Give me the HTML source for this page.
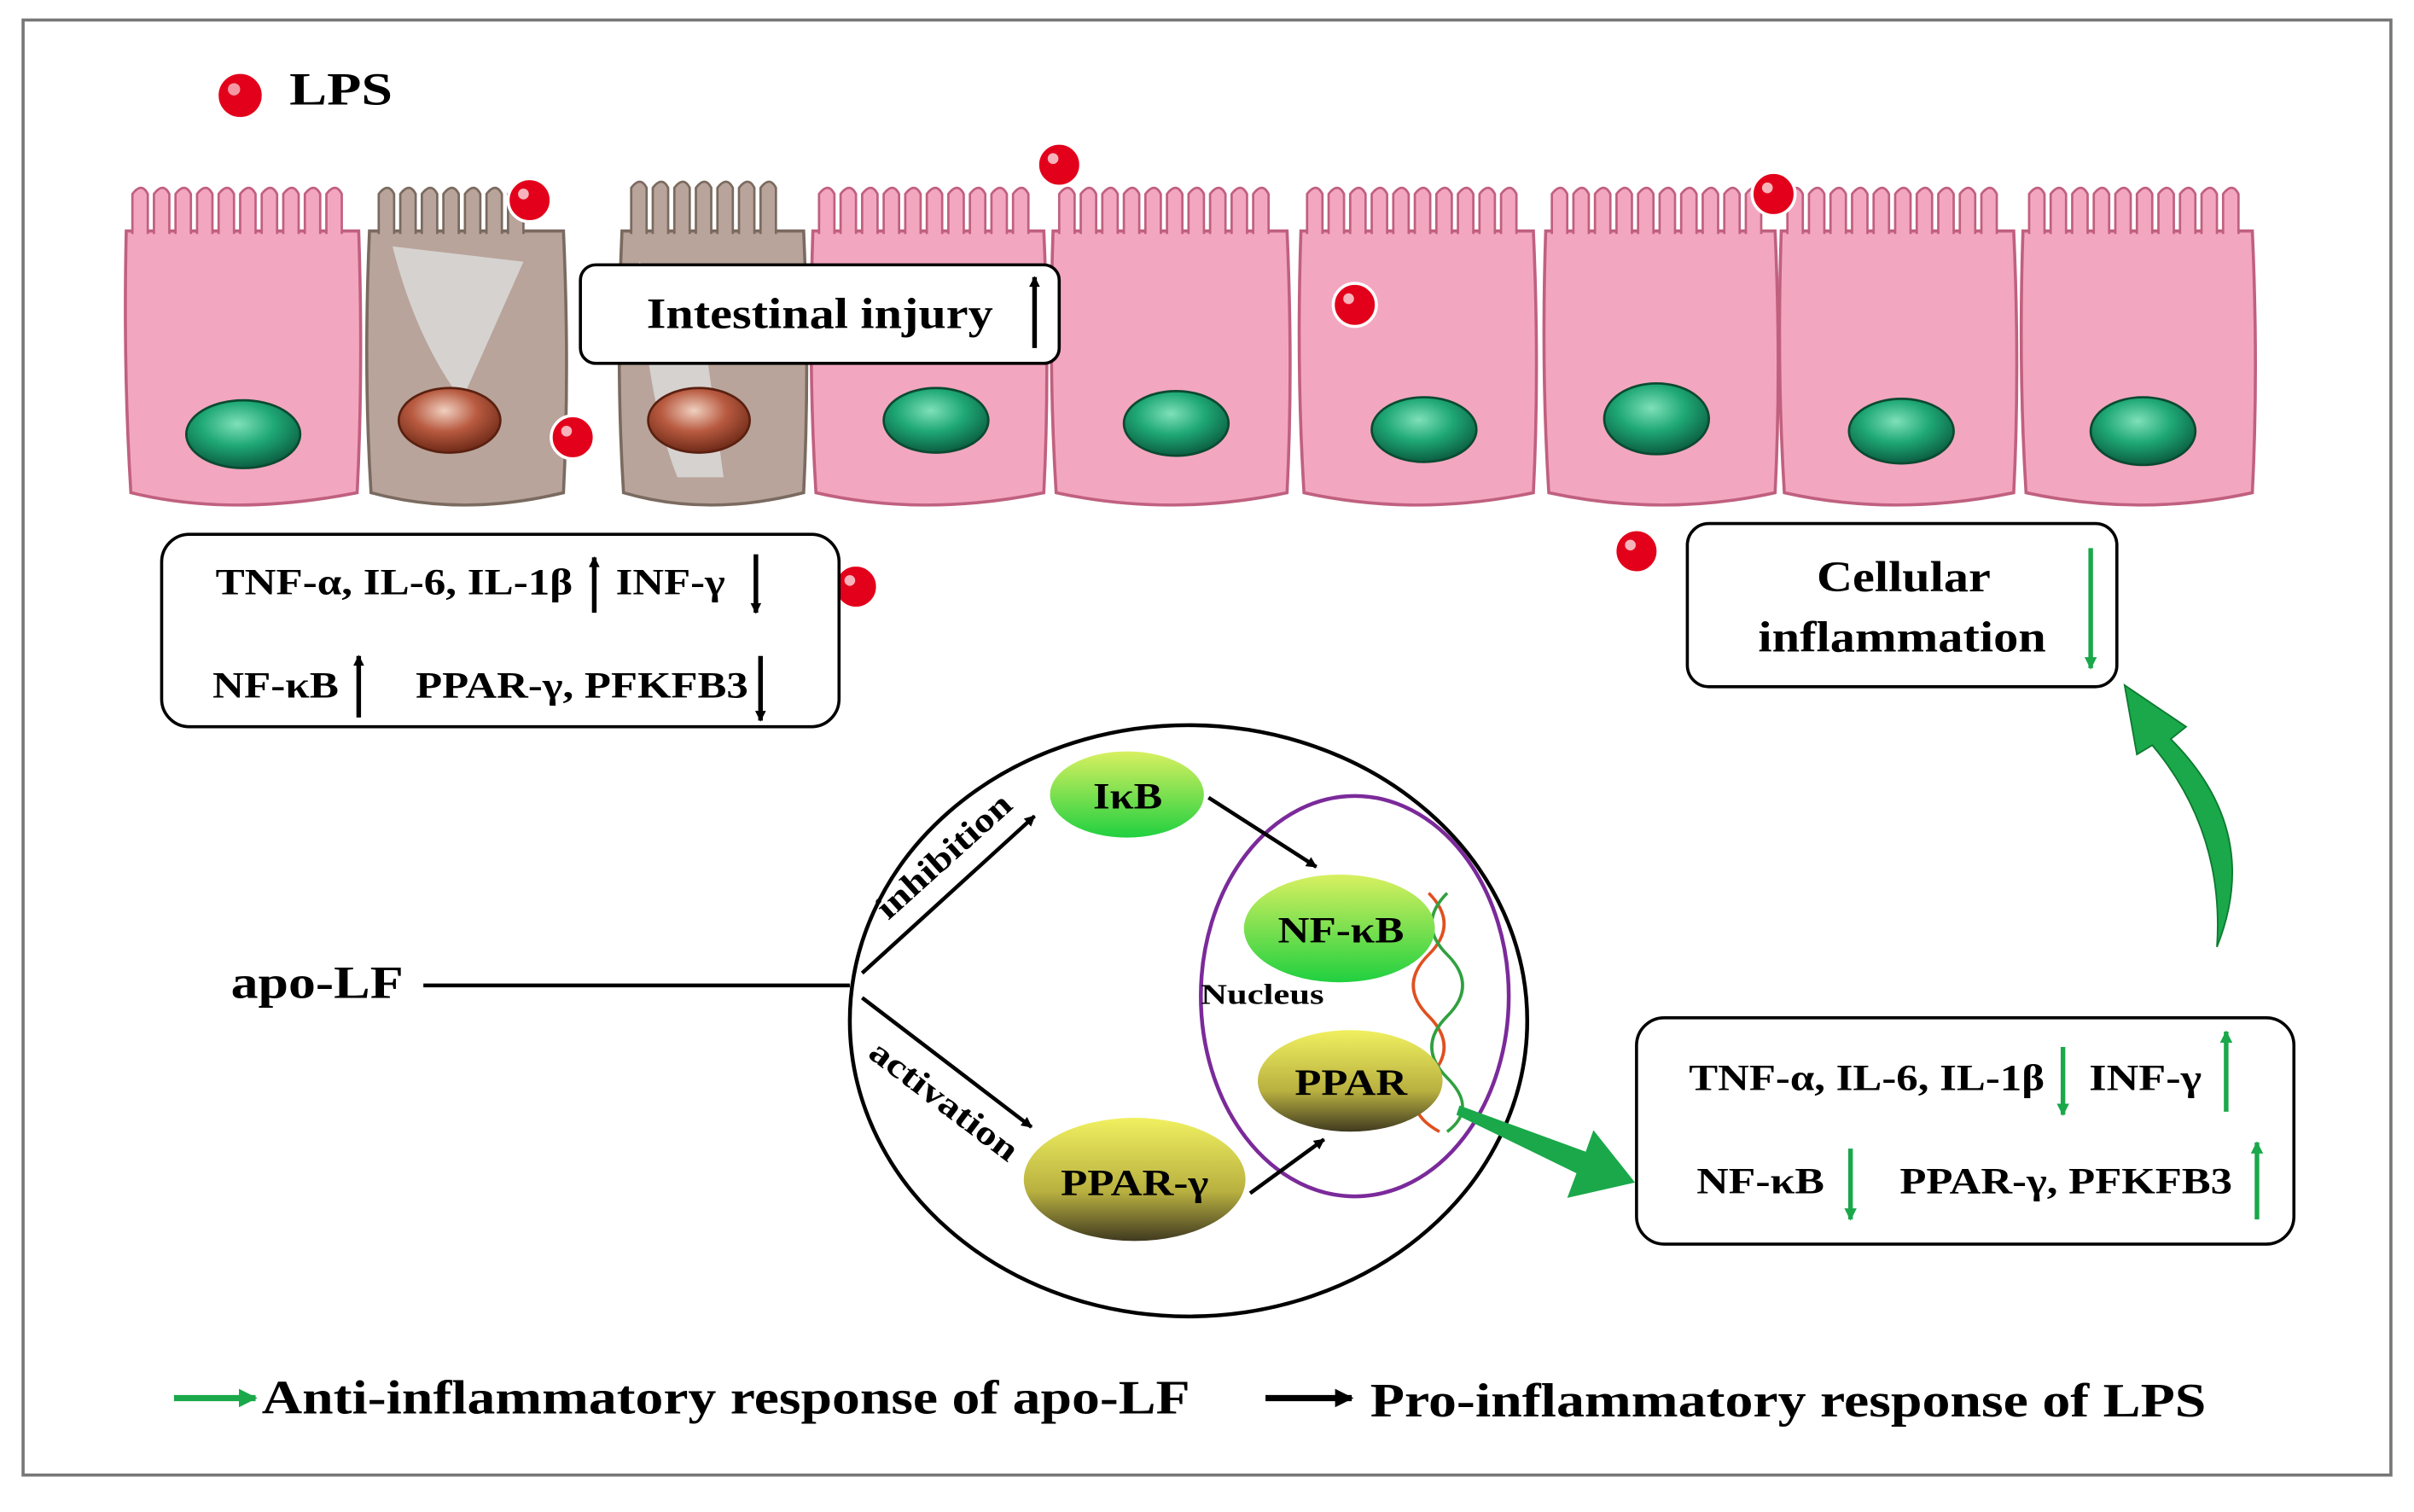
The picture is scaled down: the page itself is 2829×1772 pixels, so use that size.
<!DOCTYPE html>
<html><head><meta charset="utf-8"><style>
html,body{margin:0;padding:0;background:#fff;}
svg{display:block;}
text{font-family:"Liberation Serif",serif;font-weight:bold;fill:#000;}
</style></head><body>
<svg width="2829" height="1772" viewBox="0 0 1568 982" preserveAspectRatio="none" xmlns="http://www.w3.org/2000/svg">
<defs>
<radialGradient id="nuc" cx="45%" cy="35%" r="65%"><stop offset="0" stop-color="#7fe0b8"/><stop offset="0.5" stop-color="#1fa876"/><stop offset="1" stop-color="#0b5e42"/></radialGradient>
<radialGradient id="nucb" cx="45%" cy="35%" r="65%"><stop offset="0" stop-color="#f0d0c0"/><stop offset="0.5" stop-color="#b85a40"/><stop offset="1" stop-color="#6e2a18"/></radialGradient>
<linearGradient id="gr" x1="0" y1="0" x2="0" y2="1"><stop offset="0" stop-color="#d8f060"/><stop offset="1" stop-color="#20d040"/></linearGradient>
<linearGradient id="yd" x1="0" y1="0" x2="0" y2="1"><stop offset="0" stop-color="#f0f060"/><stop offset="0.6" stop-color="#b8b040"/><stop offset="1" stop-color="#403a20"/></linearGradient>
<marker id="ah" viewBox="0 0 10 10" refX="9" refY="5" markerUnits="userSpaceOnUse" markerWidth="12" markerHeight="10" orient="auto"><path d="M0,0 L10,5 L0,10 z" fill="#000"/></marker>
<marker id="ahs" viewBox="0 0 10 10" refX="9" refY="5" markerUnits="userSpaceOnUse" markerWidth="8" markerHeight="7" orient="auto"><path d="M0,0 L10,5 L0,10 z" fill="#000"/></marker>
<marker id="ahg" viewBox="0 0 10 10" refX="9" refY="5" markerUnits="userSpaceOnUse" markerWidth="9" markerHeight="8" orient="auto"><path d="M0,0 L10,5 L0,10 z" fill="#1aa84a"/></marker>
<marker id="ahgl" viewBox="0 0 10 10" refX="9" refY="5" markerUnits="userSpaceOnUse" markerWidth="14" markerHeight="12" orient="auto"><path d="M0,0 L10,5 L0,10 z" fill="#1aa84a"/></marker>
<marker id="ahl" viewBox="0 0 10 10" refX="9" refY="5" markerUnits="userSpaceOnUse" markerWidth="14" markerHeight="12" orient="auto"><path d="M0,0 L10,5 L0,10 z" fill="#000"/></marker>
</defs>
<rect x="15" y="13" width="1538" height="945" fill="#fff" stroke="#777" stroke-width="2"/>
<circle cx="156" cy="62" r="15" fill="#e3001b" stroke="#fff" stroke-width="2"/><circle cx="152" cy="58" r="4" fill="#fff" opacity=".6"/>
<text x="188" y="68" font-size="30" textLength="67" lengthAdjust="spacingAndGlyphs">LPS</text>
<g stroke-width="2">
<g fill="#f3a6c0" stroke="#c0607f">
<path d="M82,150 Q80,240 85,320 Q150,336 232,320 Q236,240 233,150 Z"/>
<path d="M528,150 Q525,240 530,320 Q600,336 678,320 Q682,240 678,150 Z"/>
<path d="M684,150 Q681,240 686,320 Q760,336 836,320 Q840,240 836,150 Z"/>
<path d="M845,150 Q842,240 847,320 Q920,336 996,320 Q1000,240 996,150 Z"/>
<path d="M1004,150 Q1001,240 1006,320 Q1080,336 1153,320 Q1157,240 1153,150 Z"/>
<path d="M1157,150 Q1154,240 1159,320 Q1230,336 1308,320 Q1312,240 1308,150 Z"/>
<path d="M1314,150 Q1311,240 1316,320 Q1390,336 1463,320 Q1467,240 1463,150 Z"/>
</g>
<g fill="#b8a49a" stroke="#7a6a60">
<path d="M240,150 Q236,240 241,320 Q300,336 366,320 Q370,240 366,150 Z"/>
<path d="M404,150 Q400,240 405,320 Q460,336 522,320 Q526,240 522,150 Z"/>
</g>
<g fill="#ddd" opacity=".8"><path d="M255,160 Q270,220 300,260 L340,170 Z"/><path d="M415,170 Q420,260 440,310 L470,310 L455,200 Z"/></g>
</g>
<g stroke="#c0607f" stroke-width="1.5" fill="#f3a6c0">
<path d="M86,152 v-26 q6,-8 10,0 v26 M100,152 v-26 q6,-8 10,0 v26 M114,152 v-26 q6,-8 10,0 v26 M128,152 v-26 q6,-8 10,0 v26 M142,152 v-26 q6,-8 10,0 v26 M156,152 v-26 q6,-8 10,0 v26 M170,152 v-26 q6,-8 10,0 v26 M184,152 v-26 q6,-8 10,0 v26 M198,152 v-26 q6,-8 10,0 v26 M212,152 v-26 q6,-8 10,0 v26"/>
<path d="M532,152 v-26 q6,-8 10,0 v26 M546,152 v-26 q6,-8 10,0 v26 M560,152 v-26 q6,-8 10,0 v26 M574,152 v-26 q6,-8 10,0 v26 M588,152 v-26 q6,-8 10,0 v26 M602,152 v-26 q6,-8 10,0 v26 M616,152 v-26 q6,-8 10,0 v26 M630,152 v-26 q6,-8 10,0 v26 M644,152 v-26 q6,-8 10,0 v26 M658,152 v-26 q6,-8 10,0 v26"/>
<path d="M688,152 v-26 q6,-8 10,0 v26 M702,152 v-26 q6,-8 10,0 v26 M716,152 v-26 q6,-8 10,0 v26 M730,152 v-26 q6,-8 10,0 v26 M744,152 v-26 q6,-8 10,0 v26 M758,152 v-26 q6,-8 10,0 v26 M772,152 v-26 q6,-8 10,0 v26 M786,152 v-26 q6,-8 10,0 v26 M800,152 v-26 q6,-8 10,0 v26 M814,152 v-26 q6,-8 10,0 v26"/>
<path d="M849,152 v-26 q6,-8 10,0 v26 M863,152 v-26 q6,-8 10,0 v26 M877,152 v-26 q6,-8 10,0 v26 M891,152 v-26 q6,-8 10,0 v26 M905,152 v-26 q6,-8 10,0 v26 M919,152 v-26 q6,-8 10,0 v26 M933,152 v-26 q6,-8 10,0 v26 M947,152 v-26 q6,-8 10,0 v26 M961,152 v-26 q6,-8 10,0 v26 M975,152 v-26 q6,-8 10,0 v26"/>
<path d="M1008,152 v-26 q6,-8 10,0 v26 M1022,152 v-26 q6,-8 10,0 v26 M1036,152 v-26 q6,-8 10,0 v26 M1050,152 v-26 q6,-8 10,0 v26 M1064,152 v-26 q6,-8 10,0 v26 M1078,152 v-26 q6,-8 10,0 v26 M1092,152 v-26 q6,-8 10,0 v26 M1106,152 v-26 q6,-8 10,0 v26 M1120,152 v-26 q6,-8 10,0 v26 M1134,152 v-26 q6,-8 10,0 v26"/>
<path d="M1161,152 v-26 q6,-8 10,0 v26 M1175,152 v-26 q6,-8 10,0 v26 M1189,152 v-26 q6,-8 10,0 v26 M1203,152 v-26 q6,-8 10,0 v26 M1217,152 v-26 q6,-8 10,0 v26 M1231,152 v-26 q6,-8 10,0 v26 M1245,152 v-26 q6,-8 10,0 v26 M1259,152 v-26 q6,-8 10,0 v26 M1273,152 v-26 q6,-8 10,0 v26 M1287,152 v-26 q6,-8 10,0 v26"/>
<path d="M1318,152 v-26 q6,-8 10,0 v26 M1332,152 v-26 q6,-8 10,0 v26 M1346,152 v-26 q6,-8 10,0 v26 M1360,152 v-26 q6,-8 10,0 v26 M1374,152 v-26 q6,-8 10,0 v26 M1388,152 v-26 q6,-8 10,0 v26 M1402,152 v-26 q6,-8 10,0 v26 M1416,152 v-26 q6,-8 10,0 v26 M1430,152 v-26 q6,-8 10,0 v26 M1444,152 v-26 q6,-8 10,0 v26"/>
</g>
<g stroke="#7a6a60" stroke-width="1.5" fill="#b8a49a">
<path d="M246,152 v-26 q6,-8 10,0 v26 M260,152 v-26 q6,-8 10,0 v26 M274,152 v-26 q6,-8 10,0 v26 M288,152 v-26 q6,-8 10,0 v26 M302,152 v-26 q6,-8 10,0 v26 M316,152 v-26 q6,-8 10,0 v26 M330,152 v-26 q6,-8 10,0 v26"/>
<path d="M410,152 v-30 q6,-8 10,0 v30 M424,152 v-30 q6,-8 10,0 v30 M438,152 v-30 q6,-8 10,0 v30 M452,152 v-30 q6,-8 10,0 v30 M466,152 v-30 q6,-8 10,0 v30 M480,152 v-30 q6,-8 10,0 v30 M494,152 v-30 q6,-8 10,0 v30"/>
</g>
<g stroke="#0a4a30" stroke-width="1.5">
<ellipse cx="158" cy="282" rx="37" ry="22" fill="url(#nuc)"/>
<ellipse cx="608" cy="273" rx="34" ry="21" fill="url(#nuc)"/>
<ellipse cx="764" cy="275" rx="34" ry="21" fill="url(#nuc)"/>
<ellipse cx="925" cy="279" rx="34" ry="21" fill="url(#nuc)"/>
<ellipse cx="1076" cy="272" rx="34" ry="23" fill="url(#nuc)"/>
<ellipse cx="1235" cy="280" rx="34" ry="21" fill="url(#nuc)"/>
<ellipse cx="1392" cy="280" rx="34" ry="22" fill="url(#nuc)"/>
<ellipse cx="292" cy="273" rx="33" ry="21" fill="url(#nucb)" stroke="#5a2010"/>
<ellipse cx="454" cy="273" rx="33" ry="21" fill="url(#nucb)" stroke="#5a2010"/>
</g>
<g fill="#e3001b" stroke="#fff" stroke-width="2">
<circle cx="344" cy="130" r="14"/><circle cx="372" cy="284" r="14"/><circle cx="556" cy="381" r="14"/><circle cx="688" cy="107" r="14"/><circle cx="880" cy="198" r="14"/><circle cx="1152" cy="126" r="14"/><circle cx="1063" cy="358" r="14"/>
</g>
<g fill="#fff" opacity=".7"><circle cx="340" cy="126" r="3.5"/><circle cx="368" cy="280" r="3.5"/><circle cx="552" cy="377" r="3.5"/><circle cx="684" cy="103" r="3.5"/><circle cx="876" cy="194" r="3.5"/><circle cx="1148" cy="122" r="3.5"/><circle cx="1059" cy="354" r="3.5"/></g>
<rect x="377" y="172" width="311" height="64" rx="10" fill="#fff" stroke="#000" stroke-width="2"/>
<text x="420" y="213" font-size="28" textLength="225" lengthAdjust="spacingAndGlyphs">Intestinal injury</text>
<line x1="672" y1="226" x2="672" y2="180" stroke="#000" stroke-width="3" marker-end="url(#ahs)"/>
<rect x="105" y="347" width="440" height="125" rx="18" fill="#fff" stroke="#000" stroke-width="2"/>
<g font-size="24">
<text x="140" y="386" textLength="232" lengthAdjust="spacingAndGlyphs">TNF-α, IL-6, IL-1β</text><text x="400" y="386" textLength="71" lengthAdjust="spacingAndGlyphs">INF-γ</text>
<text x="138" y="453" textLength="82" lengthAdjust="spacingAndGlyphs">NF-κB</text><text x="270" y="453" textLength="216" lengthAdjust="spacingAndGlyphs">PPAR-γ, PFKFB3</text>
</g>
<g stroke="#000" stroke-width="3">
<line x1="386" y1="398" x2="386" y2="362" marker-end="url(#ahs)"/>
<line x1="491" y1="360" x2="491" y2="398" marker-end="url(#ahs)"/>
<line x1="233" y1="466" x2="233" y2="426" marker-end="url(#ahs)"/>
<line x1="494" y1="426" x2="494" y2="468" marker-end="url(#ahs)"/>
</g>
<rect x="1096" y="340" width="279" height="106" rx="14" fill="#fff" stroke="#000" stroke-width="2"/>
<text x="1180" y="384" font-size="28" textLength="113" lengthAdjust="spacingAndGlyphs">Cellular</text>
<text x="1142" y="423" font-size="28" textLength="187" lengthAdjust="spacingAndGlyphs">inflammation</text>
<line x1="1358" y1="356" x2="1358" y2="434" stroke="#1aa84a" stroke-width="3" marker-end="url(#ahg)"/>
<ellipse cx="772" cy="663" rx="220" ry="192" fill="none" stroke="#000" stroke-width="2.5"/>
<ellipse cx="880" cy="647" rx="100" ry="130" fill="none" stroke="#7b2a9a" stroke-width="2.5"/>
<g stroke-width="2" fill="none">
<path d="M928,580 Q948,600 928,620 Q908,640 928,660 Q948,680 928,700 Q908,720 935,735" stroke="#e05020"/>
<path d="M940,580 Q920,600 940,620 Q960,640 940,660 Q920,680 940,700 Q960,720 940,735" stroke="#30a040"/>
</g>
<ellipse cx="732" cy="516" rx="50" ry="28" fill="url(#gr)"/>
<text x="710" y="525" font-size="24" textLength="45" lengthAdjust="spacingAndGlyphs">IκB</text>
<ellipse cx="870" cy="603" rx="62" ry="35" fill="url(#gr)"/>
<text x="830" y="612" font-size="24" textLength="82" lengthAdjust="spacingAndGlyphs">NF-κB</text>
<ellipse cx="877" cy="702" rx="60" ry="33" fill="url(#yd)"/>
<text x="841" y="711" font-size="24" textLength="73" lengthAdjust="spacingAndGlyphs">PPAR</text>
<ellipse cx="737" cy="766" rx="72" ry="40" fill="url(#yd)"/>
<text x="689" y="776" font-size="24" textLength="96" lengthAdjust="spacingAndGlyphs">PPAR-γ</text>
<text x="780" y="652" font-size="19" textLength="80" lengthAdjust="spacingAndGlyphs">Nucleus</text>
<text x="150" y="648" font-size="30" textLength="112" lengthAdjust="spacingAndGlyphs">apo-LF</text>
<g stroke="#000" stroke-width="2.5">
<line x1="275" y1="640" x2="552" y2="640"/>
<line x1="560" y1="632" x2="672" y2="530" marker-end="url(#ahs)"/>
<line x1="560" y1="648" x2="670" y2="732" marker-end="url(#ahs)"/>
<line x1="785" y1="518" x2="855" y2="563" marker-end="url(#ahs)"/>
<line x1="812" y1="775" x2="860" y2="740" marker-end="url(#ahs)"/>
</g>
<text font-size="22" transform="translate(577,598) rotate(-42)" textLength="110" lengthAdjust="spacingAndGlyphs">inhibition</text>
<text font-size="22" transform="translate(563,686) rotate(37)" textLength="115" lengthAdjust="spacingAndGlyphs">activation</text>
<path d="M948,718 L1030,748 L1035,734 L1062,768 L1018,778 L1024,762 L946,724 Z" fill="#1aa84a"/>
<rect x="1063" y="661" width="427" height="147" rx="18" fill="#fff" stroke="#000" stroke-width="2"/>
<g font-size="24">
<text x="1097" y="708" textLength="231" lengthAdjust="spacingAndGlyphs">TNF-α, IL-6, IL-1β</text><text x="1357" y="708" textLength="73" lengthAdjust="spacingAndGlyphs">INF-γ</text>
<text x="1102" y="775" textLength="83" lengthAdjust="spacingAndGlyphs">NF-κB</text><text x="1234" y="775" textLength="216" lengthAdjust="spacingAndGlyphs">PPAR-γ, PFKFB3</text>
</g>
<g stroke="#1aa84a" stroke-width="3">
<line x1="1340" y1="680" x2="1340" y2="724" marker-end="url(#ahg)"/>
<line x1="1446" y1="722" x2="1446" y2="670" marker-end="url(#ahg)"/>
<line x1="1202" y1="746" x2="1202" y2="792" marker-end="url(#ahg)"/>
<line x1="1466" y1="792" x2="1466" y2="742" marker-end="url(#ahg)"/>
</g>
<path d="M1440,615 Q1470,540 1410,480 L1420,472 L1380,445 L1388,490 L1398,484 Q1445,540 1440,615 Z" fill="#1aa84a" stroke="#0d7a30" stroke-width="1"/>
<line x1="113" y1="908" x2="166" y2="908" stroke="#1aa84a" stroke-width="4" marker-end="url(#ahgl)"/>
<text x="170" y="918" font-size="31" textLength="603" lengthAdjust="spacingAndGlyphs">Anti-inflammatory response of apo-LF</text>
<line x1="822" y1="908" x2="878" y2="908" stroke="#000" stroke-width="4" marker-end="url(#ahl)"/>
<text x="890" y="920" font-size="31" textLength="543" lengthAdjust="spacingAndGlyphs">Pro-inflammatory response of LPS</text>
</svg>
</body></html>
